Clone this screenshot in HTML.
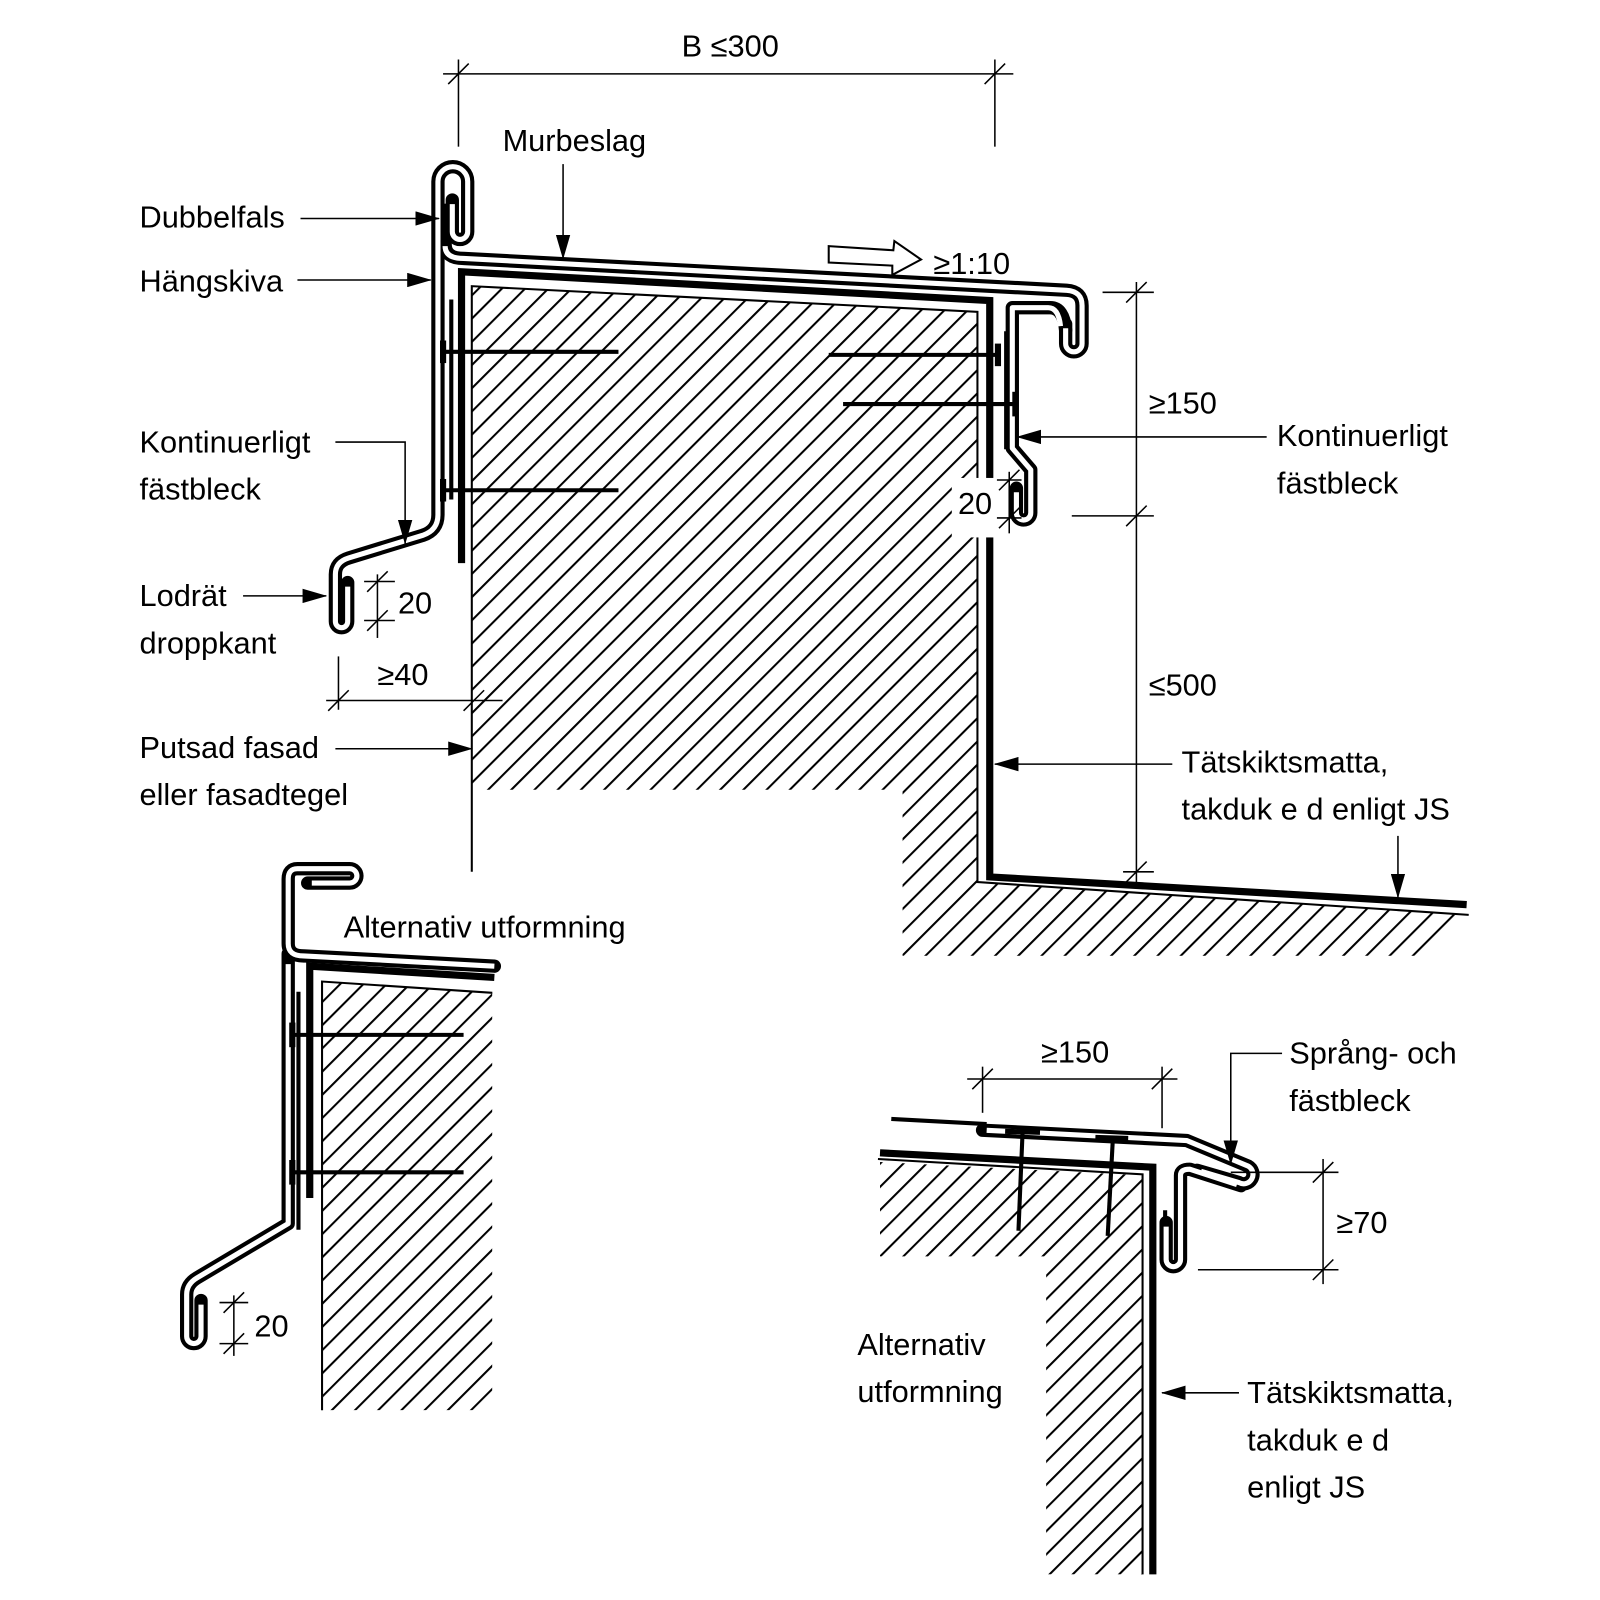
<!DOCTYPE html>
<html><head><meta charset="utf-8"><style>
html,body{margin:0;padding:0;background:#fff}
svg{display:block}
text{font-family:"Liberation Sans",sans-serif;font-size:30px;fill:#000}
</style></head><body>
<svg width="1600" height="1600" viewBox="0 0 1560 1560" xmlns="http://www.w3.org/2000/svg">
<defs>
<pattern id="h" width="16" height="16" patternUnits="userSpaceOnUse" patternTransform="rotate(45)">
<line x1="1" y1="0" x2="1" y2="16" stroke="#000" stroke-width="2"/>
</pattern>
<marker id="a" markerWidth="24" markerHeight="14" refX="23" refY="7" orient="auto" markerUnits="userSpaceOnUse">
<path d="M0,0 L24,7 L0,14 Z" fill="#000"/>
</marker>
<clipPath id="c1"><polygon points="460,279 953,304 953,860 1432,892 1395,932 880,932 880,770 460,770"/></clipPath>
<clipPath id="c2"><polygon points="314,957 480,968 480,1375 314,1375"/></clipPath>
<clipPath id="c3"><polygon points="858,1133 1114,1146 1114,1535 1020,1535 1020,1225 858,1225"/></clipPath>
</defs>

<rect x="0" y="0" width="1560" height="1560" fill="url(#h)" clip-path="url(#c1)"/>
<rect x="0" y="0" width="1560" height="1560" fill="url(#h)" clip-path="url(#c2)"/>
<rect x="0" y="0" width="1560" height="1560" fill="url(#h)" clip-path="url(#c3)"/>

<g fill="none" stroke="#000">
<polyline points="460,850 460,279 953,304 953,860 1432,892" stroke-width="2"/>
<polyline points="450,549 450,265 965,293 965,855 1430,882" stroke-width="7"/>
<line x1="440" y1="292" x2="440" y2="487" stroke-width="4"/>
<polyline points="981,323 981,438" stroke-width="4"/>
</g>

<g fill="none" stroke-linejoin="round">
<g stroke="#000" stroke-width="13" stroke-linecap="round">
<path d="M339 568 L339 606 A6 6 0 0 1 327 606 L327 560 Q327 548 340 544 L412 522 Q427 517 427 502 L427 177 A14.5 14.5 0 0 1 456 177 L456 226 A7.5 7.5 0 0 1 441 226 L441 195"/>
<path d="M434 205 L434 238 Q434 252 452 252 L1040 283 Q1055 284 1055 298 L1055 335 A8 8 0 0 1 1039 335 L1039 316"/>
<path d="M1039 322 Q1037 300 1024 300 L987 300 L987 437 L1005 458 L1005 500 A7 7 0 0 1 991 500 L991 476"/>
</g>
<g stroke="#fff" stroke-width="5" stroke-linecap="butt">
<path d="M339 572 L339 606 A6 6 0 0 1 327 606 L327 560 Q327 548 340 544 L412 522 Q427 517 427 502 L427 177 A14.5 14.5 0 0 1 456 177 L456 226 A7.5 7.5 0 0 1 441 226 L441 199"/>
<path d="M434 240 Q434 252 452 252 L1040 283 Q1055 284 1055 298 L1055 335 A8 8 0 0 1 1039 335 L1039 320"/>
<path d="M1034 318 Q1032 300 1022 300 L987 300 L987 437 L1005 458 L1005 500 A7 7 0 0 1 991 500 L991 480"/>
</g>
</g>

<g stroke="#000" fill="none">
<line x1="432" y1="343" x2="603" y2="343" stroke-width="4"/>
<line x1="432" y1="332" x2="432" y2="354" stroke-width="6"/>
<line x1="432" y1="478" x2="603" y2="478" stroke-width="4"/>
<line x1="432" y1="467" x2="432" y2="489" stroke-width="6"/>
<line x1="808" y1="346" x2="973" y2="346" stroke-width="4"/>
<line x1="973" y1="335" x2="973" y2="357" stroke-width="6"/>
<line x1="822" y1="394" x2="990" y2="394" stroke-width="4"/>
<line x1="990" y1="382" x2="990" y2="406" stroke-width="6"/>
</g>

<!-- lower-left alternative -->
<g fill="none" stroke="#000">
<polyline points="314,1375 314,957 480,968" stroke-width="2"/>
<polyline points="302,1168 302,942 482,953" stroke-width="7"/>
<line x1="291" y1="967" x2="291" y2="1199" stroke-width="4"/>
</g>
<g fill="none" stroke-linejoin="round">
<g stroke="#000" stroke-width="13" stroke-linecap="round">
<path d="M300 861 L341 861 A7 7 0 0 0 341 847 L290 847 Q281 847 281 857 L281 920 Q281 932 296 932 L482 942"/>
<path d="M196 1268 L196 1303 A7 7 0 0 1 182 1303 L182 1262 Q182 1252 192 1246 L281 1193 L281 930"/>
</g>
<g stroke="#fff" stroke-width="5">
<path d="M304 861 L341 861 A7 7 0 0 0 341 847 L290 847 Q281 847 281 857 L281 920 Q281 932 296 932 L482 942"/>
<path d="M196 1272 L196 1303 A7 7 0 0 1 182 1303 L182 1262 Q182 1252 192 1246 L281 1193 L281 940"/>
</g>
</g>
<g stroke="#000" fill="none">
<line x1="285" y1="1009" x2="452" y2="1009" stroke-width="4"/>
<line x1="285" y1="997" x2="285" y2="1021" stroke-width="6"/>
<line x1="285" y1="1143" x2="452" y2="1143" stroke-width="4"/>
<line x1="285" y1="1131" x2="285" y2="1155" stroke-width="6"/>
</g>

<!-- bottom-right alternative -->
<g fill="none" stroke="#000">
<polyline points="856,1130 1114,1145 1114,1535" stroke-width="2"/>
<polyline points="858,1124 1124,1138 1124,1535" stroke-width="7"/>
<line x1="1136" y1="1180" x2="1136" y2="1232" stroke-width="4"/>
<line x1="869" y1="1091" x2="962" y2="1096" stroke-width="4"/>
</g>
<g fill="none" stroke-linejoin="round">
<g stroke="#000" stroke-width="13" stroke-linecap="round">
<path d="M958 1102 L1157 1112 L1217 1137 A9 9 0 0 1 1208 1153 L1167 1141"/>
<path d="M1137 1192 L1137 1228 A7 7 0 0 0 1151 1228 L1151 1146 Q1151 1140 1160 1140 L1210 1156"/>
</g>
<g stroke="#fff" stroke-width="5">
<path d="M962 1102 L1157 1112 L1217 1137 A9 9 0 0 1 1208 1153 L1171 1142"/>
<path d="M1137 1196 L1137 1228 A7 7 0 0 0 1151 1228 L1151 1146 Q1151 1140 1160 1140 L1206 1155"/>
</g>
</g>
<g stroke="#000" fill="none">
<line x1="980" y1="1103" x2="1014" y2="1104" stroke-width="5"/>
<line x1="997" y1="1104" x2="993" y2="1200" stroke-width="4"/>
<line x1="1068" y1="1109" x2="1100" y2="1110" stroke-width="5"/>
<line x1="1085" y1="1111" x2="1080" y2="1205" stroke-width="4"/>
</g>

<rect x="928" y="466" width="44" height="58" fill="#fff"/>

<g stroke="#000" stroke-width="1.5" fill="none">
<line x1="432" y1="72" x2="988" y2="72"/>
<line x1="447" y1="58" x2="447" y2="143"/>
<line x1="970" y1="58" x2="970" y2="143"/>
<line x1="437" y1="82" x2="457" y2="62"/>
<line x1="960" y1="82" x2="980" y2="62"/>

<line x1="1108" y1="275" x2="1108" y2="862"/>
<line x1="1075" y1="285" x2="1125" y2="285"/>
<line x1="1045" y1="503" x2="1125" y2="503"/>
<line x1="1095" y1="850" x2="1125" y2="850"/>
<line x1="1098" y1="295" x2="1118" y2="275"/>
<line x1="1098" y1="513" x2="1118" y2="493"/>
<line x1="1098" y1="860" x2="1118" y2="840"/>

<line x1="318" y1="683" x2="490" y2="683"/>
<line x1="330" y1="640" x2="330" y2="692"/>
<line x1="320" y1="693" x2="340" y2="673"/>
<line x1="452" y1="693" x2="472" y2="673"/>

<line x1="368" y1="560" x2="368" y2="622"/>
<line x1="355" y1="567" x2="385" y2="567"/>
<line x1="355" y1="605" x2="385" y2="605"/>
<line x1="358" y1="577" x2="378" y2="557"/>
<line x1="358" y1="615" x2="378" y2="595"/>

<line x1="984" y1="460" x2="984" y2="520"/>
<line x1="972" y1="468" x2="996" y2="468"/>
<line x1="972" y1="505" x2="996" y2="505"/>
<line x1="974" y1="478" x2="994" y2="458"/>
<line x1="974" y1="515" x2="994" y2="495"/>

<line x1="228" y1="1263" x2="228" y2="1322"/>
<line x1="214" y1="1270" x2="242" y2="1270"/>
<line x1="214" y1="1310" x2="242" y2="1310"/>
<line x1="218" y1="1280" x2="238" y2="1260"/>
<line x1="218" y1="1320" x2="238" y2="1300"/>

<line x1="943" y1="1052" x2="1148" y2="1052"/>
<line x1="958" y1="1040" x2="958" y2="1085"/>
<line x1="1133" y1="1040" x2="1133" y2="1100"/>
<line x1="948" y1="1062" x2="968" y2="1042"/>
<line x1="1123" y1="1062" x2="1143" y2="1042"/>

<line x1="1290" y1="1130" x2="1290" y2="1252"/>
<line x1="1200" y1="1143" x2="1305" y2="1143"/>
<line x1="1168" y1="1238" x2="1305" y2="1238"/>
<line x1="1280" y1="1153" x2="1300" y2="1133"/>
<line x1="1280" y1="1248" x2="1300" y2="1228"/>
</g>

<g stroke="#000" stroke-width="1.5" fill="none" marker-end="url(#a)">
<polyline points="549,160 549,252"/>
<polyline points="293,213 428,213"/>
<polyline points="290,273 420,273"/>
<polyline points="327,431 395,431 395,530"/>
<polyline points="237,581 318,581"/>
<polyline points="327,730 460,730"/>
<polyline points="1235,426 992,426"/>
<polyline points="1143,745 970,745"/>
<polyline points="1363,815 1363,875"/>
<polyline points="1250,1027 1200,1027 1200,1135"/>
<polyline points="1208,1358 1133,1358"/>
</g>

<polygon points="808,240 871,244 872,235 898,253 870,268 870,259 808,256" fill="#fff" stroke="#000" stroke-width="2"/>

<text x="712" y="55" text-anchor="middle">B ≤300</text>
<text x="490" y="147">Murbeslag</text>
<text x="136" y="222">Dubbelfals</text>
<text x="136" y="284">Hängskiva</text>
<text x="136" y="441">Kontinuerligt</text>
<text x="136" y="487">fästbleck</text>
<text x="136" y="591">Lodrät</text>
<text x="136" y="637">droppkant</text>
<text x="368" y="668">≥40</text>
<text x="136" y="739">Putsad fasad</text>
<text x="136" y="785">eller fasadtegel</text>
<text x="388" y="598">20</text>
<text x="910" y="267">≥1:10</text>
<text x="1120" y="403">≥150</text>
<text x="1245" y="435">Kontinuerligt</text>
<text x="1245" y="481">fästbleck</text>
<text x="934" y="501">20</text>
<text x="1120" y="678">≤500</text>
<text x="1152" y="753">Tätskiktsmatta,</text>
<text x="1152" y="799">takduk e d enligt JS</text>
<text x="335" y="914">Alternativ utformning</text>
<text x="248" y="1303">20</text>
<text x="1015" y="1036">≥150</text>
<text x="1257" y="1037">Språng- och</text>
<text x="1257" y="1083">fästbleck</text>
<text x="1303" y="1202">≥70</text>
<text x="836" y="1321">Alternativ</text>
<text x="836" y="1367">utformning</text>
<text x="1216" y="1368">Tätskiktsmatta,</text>
<text x="1216" y="1414">takduk e d</text>
<text x="1216" y="1460">enligt JS</text>
</svg>
</body></html>
